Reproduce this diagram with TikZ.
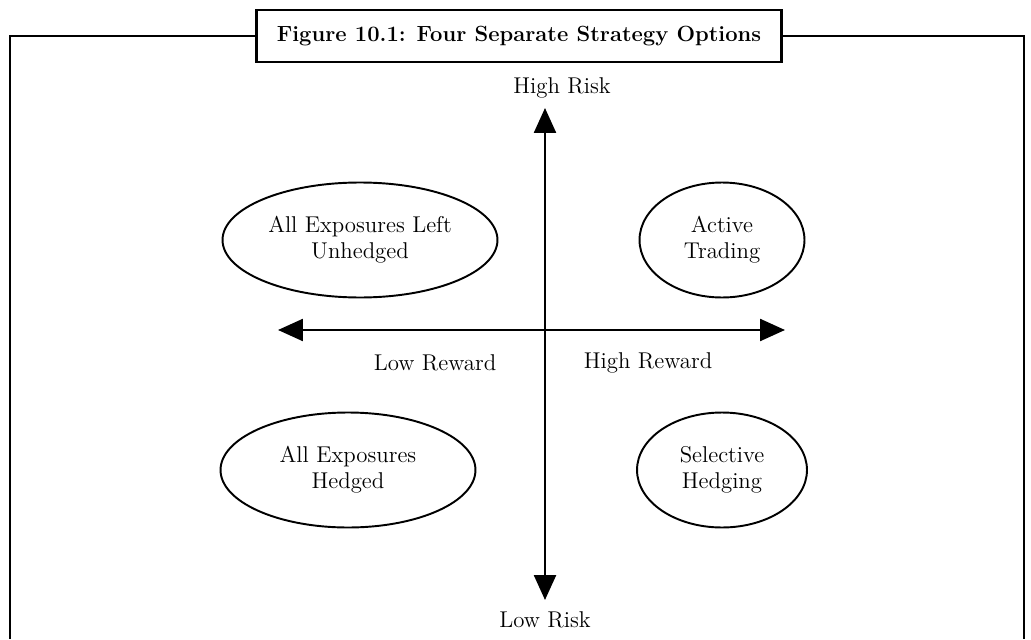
\documentclass[tikz,border=0pt]{standalone}
\usepackage{tikz}
\usetikzlibrary{shapes.geometric}
\usetikzlibrary{arrows.meta}

\begin{document}
\begin{tikzpicture}[x=0.02cm, y=-0.02cm, every node/.style={font=\fontsize{13}{15}\selectfont, align=center},
	option/.style={ellipse, draw, line width=1.1pt, minimum height=2.3cm, inner sep=0pt},
	axis/.style={line width=1.4pt, {Triangle[length=0.5cm, width=0.44cm]}-{Triangle[length=0.5cm, width=0.44cm]}}]
	\useasboundingbox (0,0) rectangle (1031,639);
	% frame and caption
	\node[draw, line width=1.5pt, minimum width=10.5cm, minimum height=1.04cm, font=\fontsize{12.5}{14}\selectfont\bfseries] (title) at (519,36) {Figure 10.1: Four Separate Strategy Options};
	\coordinate (tl) at (10,36);
	\coordinate (bl) at (10,639);
	\coordinate (tr) at (1024,36);
	\coordinate (br) at (1024,639);
	\draw[line width=1.5pt] (title.west) -- (tl) -- (bl);
	\draw[line width=1.5pt] (title.east) -- (tr) -- (br);
	% axes
	\coordinate (riskTop) at (545,108);
	\coordinate (riskBot) at (545,600);
	\coordinate (rewardL) at (278,330);
	\coordinate (rewardR) at (785,330);
	\draw[axis] (riskBot) -- (riskTop);
	\draw[axis] (rewardL) -- (rewardR);
	\node (hr) at (562,88) {High Risk};
	\node (lr) at (545,620) {Low Risk};
	\node (lw) at (435,363) {Low Reward};
	\node (hw) at (648,363) {High Reward};
	% the four options
	\node[option, minimum width=5.5cm] (unhedged) at (360,240) {All Exposures Left\\Unhedged};
	\node[option, minimum width=3.3cm] (active) at (722,240) {Active\\Trading};
	\node[option, minimum width=5.1cm] (hedged) at (348,470) {All Exposures\\Hedged};
	\node[option, minimum width=3.4cm] (selective) at (722,470) {Selective\\Hedging};
\end{tikzpicture}
\end{document}
